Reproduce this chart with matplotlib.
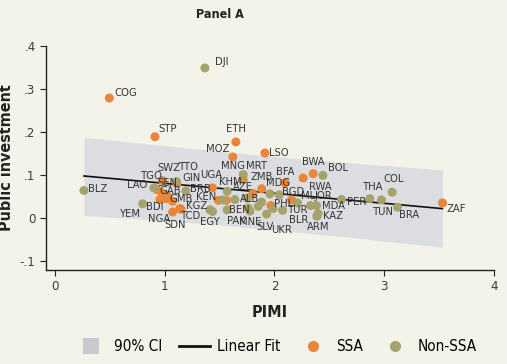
import matplotlib
matplotlib.use('Agg')
import matplotlib.pyplot as plt
from matplotlib.lines import Line2D

plt.rcParams['font.family'] = ['DejaVu Sans']
plt.rcParams['font.stretch'] = 'condensed'

# --- data ---
ssa_names = ['COG', 'STP', 'ETH', 'MOZ', 'LSO', 'MRT', 'BWA', 'RWA', 'ZMB', 'BFA',
             'UGA', 'MDG', 'MLI', 'KEN', 'BEN', 'SWZ', 'TGO', 'SEN', 'GAB', 'GMB',
             'BDI', 'GIN', 'NGA', 'SDN', 'TCD', 'ZAF', '', '']
ssa_pimi = [0.495, 0.911, 1.648, 1.621, 1.913, 1.715, 2.261, 2.352, 1.883, 2.095,
            1.436, 1.803, 2.156, 1.489, 1.562, 0.981, 0.929, 0.972, 1.023, 1.072,
            0.956, 1.111, 1.072, 1.138, 1.148, 3.531, 1.967, 1.011]
ssa_pubinv = [0.279, 0.189, 0.177, 0.142, 0.151, 0.089, 0.093, 0.103, 0.068, 0.082,
              0.070, 0.057, 0.042, 0.041, 0.041, 0.087, 0.066, 0.059, 0.052, 0.039,
              0.043, 0.080, 0.014, 0.022, 0.020, 0.035, 0.029, 0.045]

non_names = ['DJI', 'MNG', 'BOL', 'KHM', 'AZE', 'ALB', 'BGD', 'PHL', 'TUR', 'BLR',
             'JOR', 'MDA', 'KAZ', 'ARM', 'UKR', 'SLV', 'MNE', 'PAK', 'EGY', 'KGZ',
             'BRB', 'TTO', 'LAO', 'BLZ', 'YEM', 'PER', 'THA', 'COL', 'TUN', 'BRA',
             '', '', '', '']
non_pimi = [1.366, 1.715, 2.441, 1.569, 1.751, 1.639, 2.043, 1.883, 2.074, 2.210,
            2.329, 2.383, 2.398, 2.386, 1.928, 1.852, 1.776, 1.569, 1.412, 1.436,
            1.193, 1.108, 0.902, 0.264, 0.799, 2.611, 2.869, 3.072, 2.975, 3.121,
            1.958, 1.530, 1.988, 1.760]
non_pubinv = [0.349, 0.101, 0.099, 0.062, 0.046, 0.043, 0.054, 0.037, 0.018, 0.035,
              0.029, 0.029, 0.010, 0.004, 0.009, 0.027, 0.016, 0.019, 0.019, 0.015,
              0.063, 0.085, 0.070, 0.064, 0.033, 0.043, 0.045, 0.060, 0.042, 0.025,
              0.056, 0.042, 0.022, 0.023]

# linear fit and 90% CI band
fit_x = [0.264, 3.531]
fit_y = [0.0977, 0.0218]
ci_x = [0.264, 1.0, 1.9, 2.8, 3.531]
ci_hi = [0.188, 0.168, 0.145, 0.126, 0.112]
ci_lo = [0.006, -0.006, -0.025, -0.048, -0.068]

# label offsets in pixels (x right, y up)
label_off = {
    'COG': (16, 5), 'STP': (13, 8), 'ETH': (0, 13), 'MOZ': (-15, 8), 'LSO': (14, 0),
    'MRT': (13, 14), 'BWA': (10, 16), 'RWA': (7, -13), 'ZMB': (0, 12), 'BFA': (0, 11),
    'UGA': (-1, 13), 'MDG': (25, 10), 'MLI': (18, 4), 'KEN': (-12, 3), 'BEN': (13, -10),
    'SWZ': (6, 13), 'TGO': (-5, 14), 'SEN': (6, 10), 'GAB': (3, 5), 'GMB': (8, 2),
    'BDI': (-5, -7), 'GIN': (15, 6), 'NGA': (-14, -7), 'SDN': (-5, -16), 'TCD': (10, -7),
    'ZAF': (14, -6), 'DJI': (17, 6), 'MNG': (-10, 9), 'BOL': (15, 7), 'KHM': (3, 9),
    'AZE': (-4, 11), 'ALB': (15, 1), 'BGD': (14, 3), 'PHL': (22, -2), 'TUR': (16, 0),
    'BLR': (1, -17), 'JOR': (13, 10), 'MDA': (17, 0), 'KAZ': (15, -2), 'ARM': (1, -11),
    'UKR': (15, -16), 'SLV': (7, -21), 'MNE': (0, -11), 'PAK': (9, -11), 'EGY': (0, -12),
    'KGZ': (-16, 6), 'BRB': (14, 2), 'TTO': (12, 14), 'LAO': (-17, 3), 'BLZ': (14, 1),
    'YEM': (-12, -10), 'PER': (15, -2), 'THA': (3, 12), 'COL': (1, 13), 'TUN': (2, -12),
    'BRA': (12, -8),
}

bg = '#f4f3ea'
orange = '#e8863a'
olive = '#a6a26c'
band = '#dcdde0'
txt = '#333333'

fig = plt.figure(figsize=(5.07, 3.64), dpi=100, facecolor=bg)
ax = fig.add_axes([0.0907, 0.2582, 0.8836, 0.6154])
ax.set_facecolor(bg)

ax.fill_between(ci_x, ci_lo, ci_hi, color=band, lw=0, zorder=1)
ax.plot(fit_x, fit_y, color='#111111', lw=1.2, zorder=2)


def draw_group(xs, ys, names, color):
    ax.scatter(xs, ys, s=42, color=color, edgecolors='none', zorder=3)
    for x, y, n in zip(xs, ys, names):
        if not n:
            continue
        ax.annotate(n, (x, y), xytext=label_off.get(n, (12, 0)), textcoords='offset pixels',
                    ha='center', va='center', fontsize=8, color=txt, zorder=4)


draw_group(ssa_pimi, ssa_pubinv, ssa_names, orange)
draw_group(non_pimi, non_pubinv, non_names, olive)

ax.set_xlim(-0.082, 4.0)
ax.set_ylim(-0.121, 0.4)
ax.set_xticks([0, 1, 2, 3, 4])
ax.set_xticklabels(['0', '1', '2', '3', '4'])
ax.set_yticks([-0.1, 0, 0.1, 0.2, 0.3, 0.4])
ax.set_yticklabels(['-.1', '0', '.1', '.2', '.3', '.4'])
ax.tick_params(direction='out', length=4, width=0.8, colors='#222222', labelsize=9.5,
               labelcolor='#3c3c3c')
for s in ['top', 'right']:
    ax.spines[s].set_visible(False)
for s in ['left', 'bottom']:
    ax.spines[s].set_linewidth(1.0)
    ax.spines[s].set_color('#222222')

ax.set_xlabel('PIMI', fontsize=11.5, fontweight='bold', color='#222222', labelpad=8)
ax.set_ylabel('Public investment', fontsize=11.5, fontweight='bold', color='#222222', labelpad=4)
fig.text(220 / 507, 1 - 15 / 364, 'Panel A', ha='center', va='center', fontsize=9,
         fontweight='bold', color='#222222')

handles = [Line2D([], [], marker='s', ls='none', markersize=11, color='#c9cacd', markeredgewidth=0),
           Line2D([], [], color='#111111', lw=2),
           Line2D([], [], marker='o', ls='none', markersize=8, color=orange, markeredgewidth=0),
           Line2D([], [], marker='o', ls='none', markersize=8, color=olive, markeredgewidth=0)]
fig.legend(handles, ['90% CI', 'Linear Fit', 'SSA', 'Non-SSA'], loc='center',
           bbox_to_anchor=(0.545, 0.047), ncol=4, frameon=False, fontsize=11,
           handlelength=2.0, columnspacing=1.1, handletextpad=0.5)

fig.savefig('out.png', dpi=100, facecolor=bg)
